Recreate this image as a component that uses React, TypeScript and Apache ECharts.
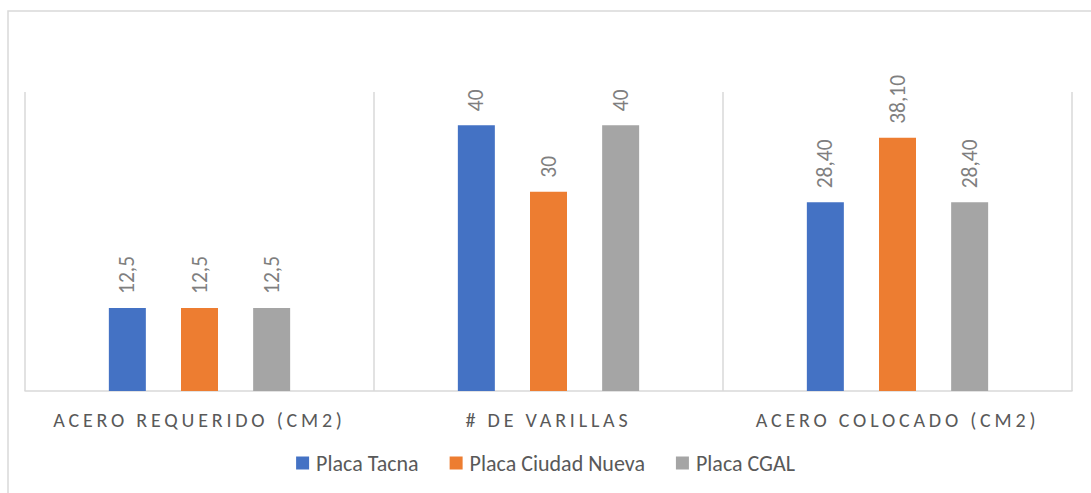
import React, { useEffect, useRef } from "react";
import * as echarts from "echarts";

const categories = ["ACERO REQUERIDO (CM2)", "# DE VARILLAS", "ACERO COLOCADO (CM2)"];
const labelDecimals = [1, 0, 2];
const seriesNames = ["Placa Tacna", "Placa Ciudad Nueva", "Placa CGAL"];
const tacna = [12.5, 40, 28.4];
const ciudadNueva = [12.5, 30, 38.1];
const cgal = [12.5, 40, 28.4];
const colors = ["#4472C4", "#ED7D31", "#A5A5A5"];

const FONT = "Calibri, Carlito, 'Open Sans', sans-serif";

export default function App() {
  const ref = useRef<HTMLDivElement>(null);
  useEffect(() => {
    if (!ref.current) return;
    const chart = echarts.init(ref.current, undefined, { renderer: "svg" });
    const fmt = (p: any) => Number(p.value).toFixed(labelDecimals[p.dataIndex]).replace(".", ",");
    const mk = (name: string, data: number[], color: string) => ({
      name,
      type: "bar",
      data,
      barWidth: 37,
      barGap: "95%",
      itemStyle: { color },
      label: {
        show: true,
        position: "top",
        rotate: 90,
        align: "left",
        verticalAlign: "middle",
        distance: 14,
        color: "#7f7f7f",
        fontFamily: FONT,
        fontSize: 21.5,
        formatter: fmt,
      },
    });
    chart.setOption({
      animation: false,
      grid: { left: 25, right: 19, top: 92, bottom: 102, containLabel: false },
      graphic: [
        {
          type: "rect",
          shape: { x: 8, y: 11, width: 1100, height: 500 },
          style: { fill: "none", stroke: "#d9d9d9", lineWidth: 1.5 },
          silent: true,
        },
      ],
      legend: {
        data: seriesNames,
        top: 447,
        left: "center",
        itemWidth: 13,
        itemHeight: 13,
        itemGap: 31,
        icon: "rect",
        textStyle: { color: "#595959", fontFamily: FONT, fontSize: 22, padding: [0, 0, 0, 2] },
      },
      xAxis: {
        type: "category",
        data: categories,
        axisLine: { show: true, lineStyle: { color: "#d9d9d9", width: 1.5 } },
        axisTick: { show: false },
        splitLine: { show: true, lineStyle: { color: "#d9d9d9", width: 1.5 } },
        axisLabel: { color: "#595959", fontFamily: FONT, fontSize: 20, margin: 19 },
      },
      yAxis: {
        type: "value",
        min: 0,
        max: 45,
        show: false,
        splitLine: { show: false },
      },
      series: [
        mk(seriesNames[0], tacna, colors[0]),
        mk(seriesNames[1], ciudadNueva, colors[1]),
        mk(seriesNames[2], cgal, colors[2]),
      ],
    });
    const texts = ref.current.querySelectorAll("text");
    texts.forEach((t) => {
      if (categories.includes((t.textContent || "").trim())) {
        t.setAttribute("letter-spacing", "3.8");
      }
    });
    return () => chart.dispose();
  }, []);
  return (
    <div
      ref={ref}
      style={{ position: "absolute", left: 0, top: 0, width: 1091, height: 493, background: "#fff" }}
    />
  );
}
